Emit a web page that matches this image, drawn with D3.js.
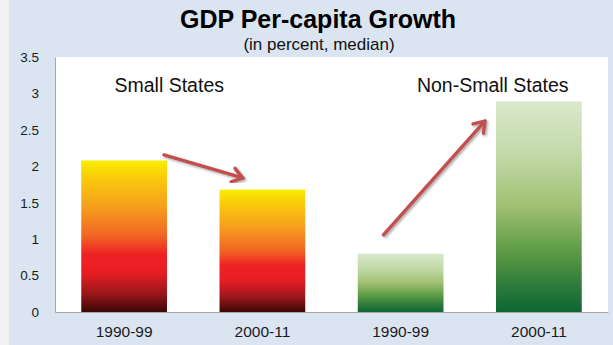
<!DOCTYPE html>
<html>
<head>
<meta charset="utf-8">
<script src="https://cdn.jsdelivr.net/npm/d3@7"></script>
<style>
  html, body { margin: 0; padding: 0; background: #f2f2f2; }
  svg { display: block; font-family: "Liberation Sans", Arial, sans-serif; }
</style>
</head>
<body>
<svg id="chart" width="613" height="345"></svg>
<script>
// ---- data ----
const categories = ["1990-99", "2000-11", "1990-99 ", "2000-11 "];
const groups = ["small", "small", "nonsmall", "nonsmall"];
const values = [2.08, 1.68, 0.80, 2.89];
const yTicks = [0, 0.5, 1, 1.5, 2, 2.5, 3, 3.5];
const yTickLabels = ["0", "0.5", "1", "1.5", "2", "2.5", "3", "3.5"];
const groupLabels = ["Small States", "Non-Small States"];
const title = "GDP Per-capita Growth";
const subtitle = "(in percent, median)";
// arrows: [category index, fraction across band, value]
const arrowStarts = [[0, 0.965, 2.155], [2, 0.30, 1.06]];
const arrowEnds = [[1, 0.27, 1.84], [3, -0.13, 2.62]];

const svg = d3.select("#chart");
const W = 613, H = 345;
const plot = { left: 55, right: 608, top: 57, bottom: 312 };

// background panel
svg.append("rect").attr("x", 9).attr("y", 0).attr("width", W - 9).attr("height", H).attr("fill", "#dbe5f1");
svg.append("rect").attr("x", plot.left).attr("y", plot.top)
  .attr("width", plot.right - plot.left).attr("height", plot.bottom - plot.top).attr("fill", "#ffffff");

const x = d3.scaleBand().domain(categories).range([plot.left, plot.right])
  .paddingInner(0.38).paddingOuter(0.19);
const y = d3.scaleLinear().domain([0, 3.5]).range([plot.bottom, plot.top]);

// gradients
const defs = svg.append("defs");
const gWarm = defs.append("linearGradient").attr("id", "warm").attr("x1", 0).attr("y1", 0).attr("x2", 0).attr("y2", 1);
[[0, "#f8ee00"], [0.12, "#fac90c"], [0.3, "#f6a01c"], [0.5, "#f16424"], [0.62, "#ee2225"], [0.74, "#e81d24"], [0.88, "#99161a"], [1, "#3a0707"]]
  .forEach(([o, c]) => gWarm.append("stop").attr("offset", o).attr("stop-color", c));
const gGreen = defs.append("linearGradient").attr("id", "green").attr("x1", 0).attr("y1", 0).attr("x2", 0).attr("y2", 1);
[[0, "#d9e9cc"], [0.25, "#c3d9a8"], [0.5, "#a0bf72"], [0.72, "#5b9a44"], [0.88, "#2b7a3a"], [1, "#0d6634"]]
  .forEach(([o, c]) => gGreen.append("stop").attr("offset", o).attr("stop-color", c));

const shadow = defs.append("filter").attr("id", "shadow").attr("x", "-20%").attr("y", "-20%").attr("width", "140%").attr("height", "140%");
shadow.append("feDropShadow").attr("dx", 1.5).attr("dy", 1.5).attr("stdDeviation", 1.2)
  .attr("flood-color", "#000").attr("flood-opacity", 0.35);

defs.append("marker").attr("id", "head").attr("markerUnits", "userSpaceOnUse")
  .attr("viewBox", "-14 -9 16 18").attr("refX", 0).attr("refY", 0)
  .attr("markerWidth", 16).attr("markerHeight", 18).attr("orient", "auto")
  .append("path").attr("d", "M-10,-7 L0,0 L-10,7")
  .attr("fill", "none").attr("stroke", "#c0504d").attr("stroke-width", 3.4)
  .attr("stroke-linejoin", "miter").attr("stroke-linecap", "round");

// bars
svg.append("g").selectAll("rect").data(values).join("rect")
  .attr("x", (d, i) => x(categories[i]))
  .attr("width", x.bandwidth())
  .attr("y", d => y(d))
  .attr("height", d => y(0) - y(d))
  .attr("fill", (d, i) => groups[i] === "small" ? "url(#warm)" : "url(#green)");

// axes
const yAxis = d3.axisLeft(y).tickValues(yTicks).tickSize(0).tickPadding(16)
  .tickFormat((d, i) => yTickLabels[i]);
const gy = svg.append("g").attr("transform", `translate(${plot.left},0)`).call(yAxis);
gy.select(".domain").attr("stroke", "#a6a6a6");
gy.selectAll("text").attr("font-size", 13.5).attr("fill", "#1a1a1a").attr("font-family", "Liberation Sans, Arial, sans-serif");

const xAxis = d3.axisBottom(x).tickSize(0).tickPadding(14);
const gx = svg.append("g").attr("transform", `translate(0,${plot.bottom})`).call(xAxis);
gx.select(".domain").attr("stroke", "#a6a6a6");
gx.selectAll("text").attr("font-size", 15.5).attr("fill", "#1a1a1a").attr("font-family", "Liberation Sans, Arial, sans-serif");

// arrows
const ax = (a) => x(categories[a[0]]) + x.bandwidth() * a[1];
svg.append("g").selectAll("line").data(arrowStarts).join("line")
  .attr("x1", d => ax(d)).attr("y1", d => y(d[2]))
  .attr("x2", (d, i) => ax(arrowEnds[i])).attr("y2", (d, i) => y(arrowEnds[i][2]))
  .attr("stroke", "#c0504d").attr("stroke-width", 3.4).attr("stroke-linecap", "round")
  .attr("marker-end", "url(#head)").attr("filter", "url(#shadow)");

// group labels
const groupCenters = [
  (x(categories[0]) + x(categories[1]) + x.bandwidth()) / 2 - 24,
  (x(categories[2]) + x(categories[3]) + x.bandwidth()) / 2 + 23
];
svg.append("g").selectAll("text").data(groupLabels).join("text")
  .attr("x", (d, i) => groupCenters[i]).attr("y", 92)
  .attr("text-anchor", "middle").attr("font-size", 19.5).attr("fill", "#111")
  .text(d => d);

// title
svg.append("text").attr("x", 318).attr("y", 28).attr("text-anchor", "middle")
  .attr("font-size", 25).attr("font-weight", "bold").attr("fill", "#000").text(title);
svg.append("text").attr("x", 319).attr("y", 50).attr("text-anchor", "middle")
  .attr("font-size", 17).attr("fill", "#111").text(subtitle);
</script>
</body>
</html>
